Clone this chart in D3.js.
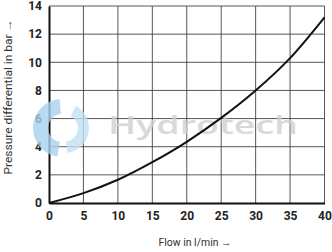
<!DOCTYPE html>
<html><head><meta charset="utf-8">
<script src="https://cdn.jsdelivr.net/npm/d3@7"></script>
<style>body{margin:0;background:#fff}svg{display:block}</style>
</head><body>
<svg id="c" width="332" height="252"></svg>
<script>
const flow = [0, 5, 10, 15, 20, 25, 30, 35, 40];
const pressure = [0, 0.7, 1.65, 2.9, 4.35, 6.05, 8.0, 10.3, 13.2];
const xTicks = [0, 5, 10, 15, 20, 25, 30, 35, 40];
const yTicks = [0, 2, 4, 6, 8, 10, 12, 14];

const svg = d3.select("#c");
const L = 49, R = 324.5, T = 6, B = 203;
const x = d3.scaleLinear().domain([0, 40]).range([L, R]);
const y = d3.scaleLinear().domain([0, 14]).range([B, T]);

// grid
svg.append("g").selectAll("line").data(xTicks.slice(1)).join("line")
  .attr("x1", d => x(d)).attr("x2", d => x(d)).attr("y1", T).attr("y2", B)
  .attr("stroke", "#444").attr("stroke-width", 0.9);
svg.append("g").selectAll("line").data(yTicks.slice(1)).join("line")
  .attr("x1", L).attr("x2", R).attr("y1", d => y(d)).attr("y2", d => y(d))
  .attr("stroke", "#444").attr("stroke-width", 0.9);

// axes
const xa = svg.append("g").attr("transform", `translate(0,${B})`)
  .call(d3.axisBottom(x).tickValues(xTicks).tickSize(0).tickPadding(8));
const ya = svg.append("g").attr("transform", `translate(${L},0)`)
  .call(d3.axisLeft(y).tickValues(yTicks).tickSize(0).tickPadding(7));
[xa, ya].forEach(a => {
  a.select(".domain").attr("stroke", "#111").attr("stroke-width", 2);
  a.selectAll("text").attr("font-family", "Roboto, sans-serif").attr("font-size", 12)
    .attr("font-weight", "bold").attr("fill", "#222");
});

// watermark
const wm = svg.append("g").attr("opacity", 0.8);
wm.append("path")
  .attr("d", d3.arc()({innerRadius: 14, outerRadius: 29, startAngle: 3.3, endAngle: 6.2, cornerRadius: 3}))
  .attr("transform", "translate(62,128)").attr("fill", "#a8d2ee");
wm.append("path")
  .attr("d", d3.arc()({innerRadius: 14, outerRadius: 25, startAngle: 0.5, endAngle: 3.0, cornerRadius: 3}))
  .attr("transform", "translate(64,128)").attr("fill", "#c2e0f3");
wm.append("text").attr("x", 108).attr("y", 134)
  .attr("font-family", "Open Sans, sans-serif").attr("font-size", 26).attr("font-weight", 600)
  .attr("fill", "#d0d0d0").attr("textLength", 190).attr("lengthAdjust", "spacingAndGlyphs")
  .text("Hydrotech");

// curve
svg.append("path").datum(flow.map((f, i) => [f, pressure[i]]))
  .attr("d", d3.line().x(d => x(d[0])).y(d => y(d[1])).curve(d3.curveMonotoneX))
  .attr("fill", "none").attr("stroke", "#111").attr("stroke-width", 2);

// labels
svg.append("text").attr("x", 195).attr("y", 246).attr("text-anchor", "middle")
  .attr("font-family", "Roboto, sans-serif").attr("font-size", 10.5).attr("fill", "#333")
  .attr("textLength", 73).attr("lengthAdjust", "spacingAndGlyphs")
  .text("Flow in l/min →");
svg.append("text").attr("transform", "translate(12,97) rotate(-90)").attr("text-anchor", "middle")
  .attr("font-family", "Roboto, sans-serif").attr("font-size", 10.5).attr("fill", "#333")
  .attr("textLength", 155).attr("lengthAdjust", "spacingAndGlyphs")
  .text("Pressure differential in bar →");
</script>
</body></html>
